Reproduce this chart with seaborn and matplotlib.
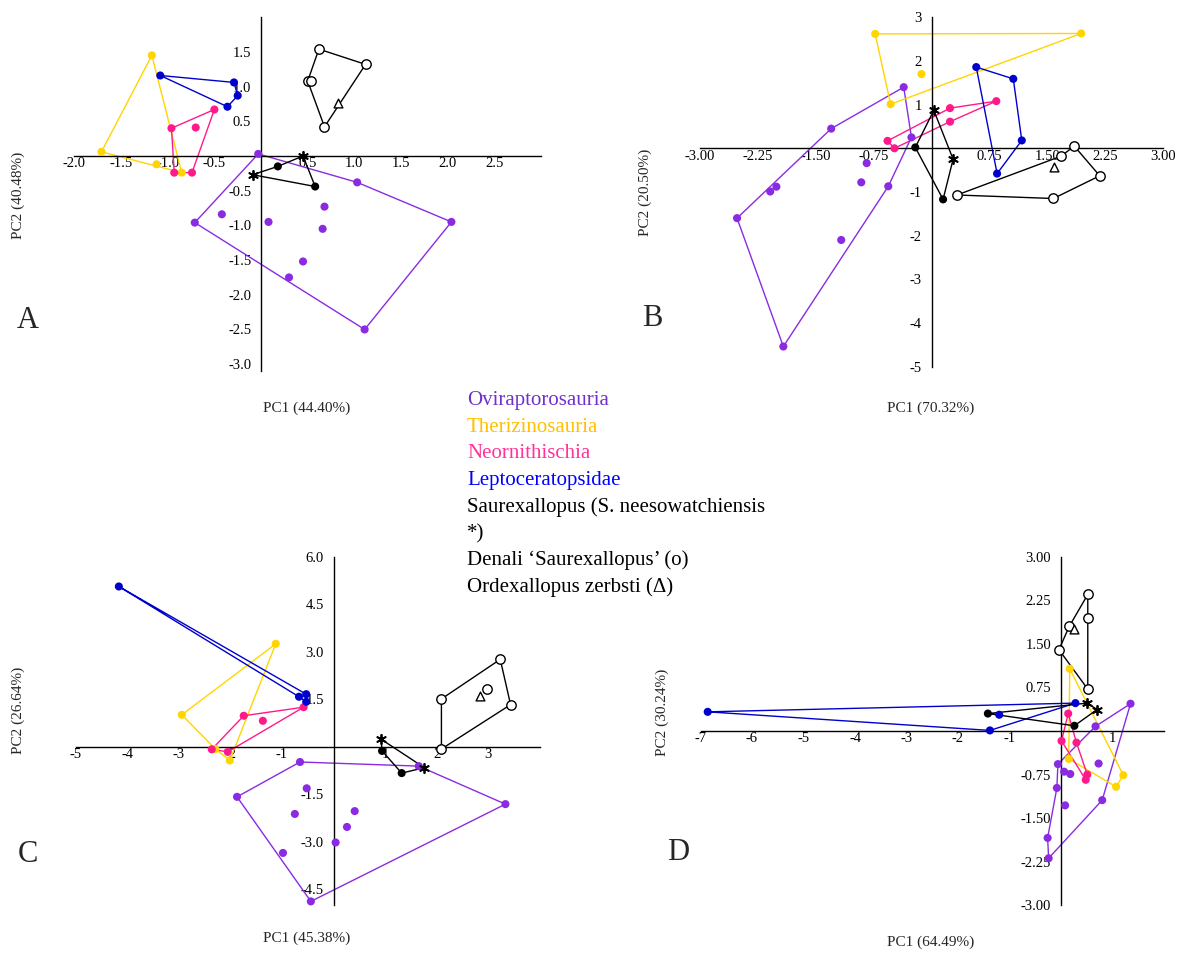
import matplotlib
matplotlib.use("Agg")
import matplotlib.pyplot as plt
import seaborn as sns
import pandas as pd

# Colores de los grupos (puntos y lineas)
col_ovi = "#8A2BE2"
col_the = "#FFD500"
col_neo = "#FF1A8C"
col_lep = "#0000CD"

# ---- Datos panel A ----
a_ovi_hull = [(-0.03, 0.03), (1.03, -0.38), (2.04, -0.95), (1.11, -2.50), (-0.71, -0.96)]
a_ovi_pts = [(-0.42, -0.84), (0.08, -0.95), (0.68, -0.73), (0.66, -1.05), (0.45, -1.52), (0.30, -1.75)]
a_the_hull = [(-1.71, 0.06), (-1.17, 1.45), (-0.85, -0.24)]
a_the_pts = [(-1.12, -0.12)]
a_neo_hull = [(-0.96, 0.40), (-0.50, 0.67), (-0.74, -0.24), (-0.93, -0.24)]
a_neo_pts = [(-0.70, 0.41)]
a_lep_hull = [(-1.08, 1.16), (-0.29, 1.06), (-0.25, 0.87), (-0.36, 0.71)]
a_lep_pts = []
a_sau_hull = [(-0.09, -0.27, "*"), (0.18, -0.15, "o"), (0.45, 0.00, "*"), (0.58, -0.44, "o")]
a_den_hull = [(0.62, 1.54), (1.12, 1.32), (0.68, 0.42), (0.50, 1.08)]
a_den_pts = [(0.54, 1.08)]
a_ord = [(0.82, 0.77)]

# ---- Datos panel B ----
b_ovi_hull = [(-0.36, 1.40), (-0.26, 0.25), (-0.56, -0.87), (-1.92, -4.54), (-2.52, -1.60), (-1.30, 0.45)]
b_ovi_pts = [(-2.09, -0.99), (-2.01, -0.88), (-0.84, -0.34), (-0.91, -0.78), (-1.17, -2.10)]
b_the_hull = [(-0.73, 2.62), (1.94, 2.63), (-0.53, 1.01)]
b_the_pts = [(-0.13, 1.70)]
b_neo_hull = [(-0.57, 0.17), (0.24, 0.92), (0.84, 1.08), (0.24, 0.61), (-0.48, 0.00)]
b_neo_pts = []
b_lep_hull = [(0.58, 1.86), (1.06, 1.59), (1.17, 0.18), (0.85, -0.58)]
b_lep_pts = []
b_sau_hull = [(-0.21, 0.02, "o"), (0.03, 0.87, "*"), (0.28, -0.25, "*"), (0.15, -1.17, "o")]
b_den_hull = [(0.33, -1.07), (1.68, -0.18), (1.85, 0.05), (2.18, -0.63), (1.58, -1.15)]
b_den_pts = []
b_ord = [(1.59, -0.44)]

# ---- Datos panel C ----
c_ovi_hull = [(-0.65, -0.48), (1.65, -0.61), (3.33, -1.81), (-0.44, -4.88), (-1.87, -1.58)]
c_ovi_pts = [(-0.52, -1.31), (-0.75, -2.12), (-0.98, -3.35), (0.04, -3.02), (0.26, -2.53), (0.41, -2.03)]
c_the_hull = [(-2.94, 1.01), (-1.12, 3.25), (-2.01, -0.43), (-2.29, -0.07)]
c_the_pts = []
c_neo_hull = [(-2.36, -0.08), (-1.74, 0.98), (-0.58, 1.25), (-2.05, -0.16)]
c_neo_pts = [(-1.37, 0.82)]
c_lep_hull = [(-4.16, 5.06), (-0.67, 1.58), (-0.53, 1.42), (-0.53, 1.66)]
c_lep_pts = []
c_sau_hull = [(0.92, 0.24, "*"), (1.76, -0.66, "*"), (1.32, -0.83, "o"), (0.94, -0.13, "o")]
c_den_hull = [(2.09, 1.51), (3.23, 2.76), (3.43, 1.33), (2.09, -0.07)]
c_den_pts = [(2.97, 1.82)]
c_ord = [(2.83, 1.59)]

# ---- Datos panel D ----
d_ovi_hull = [(1.35, 0.47), (0.80, -1.19), (-0.24, -2.19), (-0.26, -1.84), (-0.08, -0.98), (-0.06, -0.57), (0.67, 0.08)]
d_ovi_pts = [(0.06, -0.70), (0.18, -0.74), (0.08, -1.28), (0.73, -0.56)]
d_the_hull = [(0.17, 1.07), (1.21, -0.76), (1.07, -0.96), (0.15, -0.48)]
d_the_pts = []
d_neo_hull = [(0.14, 0.30), (0.30, -0.20), (0.51, -0.75), (0.48, -0.84), (0.01, -0.17)]
d_neo_pts = []
d_lep_hull = [(-6.86, 0.33), (0.28, 0.48), (-1.38, 0.01)]
d_lep_pts = [(-1.20, 0.28)]
d_sau_hull = [(-1.42, 0.30, "o"), (0.51, 0.48, "*"), (0.70, 0.37, "*"), (0.26, 0.09, "o")]
d_den_hull = [(-0.04, 1.40), (0.16, 1.80), (0.52, 2.35), (0.52, 0.72)]
d_den_pts = [(0.52, 1.94)]
d_ord = [(0.25, 1.75)]

# Ticks y etiquetas
a_xticks = [-2.0, -1.5, -1.0, -0.5, 0.5, 1.0, 1.5, 2.0, 2.5]
a_yticks = [1.5, 1.0, 0.5, -0.5, -1.0, -1.5, -2.0, -2.5, -3.0]
b_xticks = [-3.0, -2.25, -1.5, -0.75, 0.75, 1.5, 2.25, 3.0]
b_yticks = [3, 2, 1, -1, -2, -3, -4, -5]
c_xticks = [-5, -4, -3, -2, -1, 1, 2, 3]
c_yticks = [6.0, 4.5, 3.0, 1.5, -1.5, -3.0, -4.5]
d_xticks = [-7, -6, -5, -4, -3, -2, -1, 1]
d_yticks = [3.0, 2.25, 1.5, 0.75, -0.75, -1.5, -2.25, -3.0]

pc1_labels = ["PC1 (44.40%)", "PC1 (70.32%)", "PC1 (45.38%)", "PC1 (64.49%)"]
pc2_labels = ["PC2 (40.48%)", "PC2 (20.50%)", "PC2 (26.64%)", "PC2 (30.24%)"]
panel_letters = ["A", "B", "C", "D"]

leyenda = [
    ("Oviraptorosauria", "#7030D0"),
    ("Therizinosauria", "#FFC000"),
    ("Neornithischia", "#FF3399"),
    ("Leptoceratopsidae", "#0000FF"),
    ("Saurexallopus (S. neesowatchiensis", "black"),
    ("*)", "black"),
    ("Denali \u2018Saurexallopus\u2019 (o)", "black"),
    ("Ordexallopus zerbsti (\u0394)", "black"),
]

sns.set_theme(style="white")
plt.rcParams["font.family"] = ["Liberation Serif", "DejaVu Serif"]
plt.rcParams["axes.unicode_minus"] = False

W, H = 1180, 957
fig = plt.figure(figsize=(W / 100, H / 100), dpi=100)


def make_ax(x0, x1, y0, y1, xlim, ylim):
    # posicion en pixeles -> fraccion de figura
    ax = fig.add_axes([x0 / W, 1 - y1 / H, (x1 - x0) / W, (y1 - y0) / H])
    ax.set_xlim(*xlim)
    ax.set_ylim(*ylim)
    ax.patch.set_alpha(0)
    for s in ["top", "right"]:
        ax.spines[s].set_visible(False)
    for s in ["left", "bottom"]:
        ax.spines[s].set_position(("data", 0))
        ax.spines[s].set_color("black")
        ax.spines[s].set_linewidth(1.0)
    ax.tick_params(axis="y", direction="out", length=5, width=1.0, pad=2, labelsize=10.5, colors="black")
    ax.tick_params(axis="x", direction="out", length=6, width=0.8, pad=-5, labelsize=10.5, colors="black")
    return ax


def draw_group(ax, hull, pts, color):
    xs = [p[0] for p in hull] + [hull[0][0]]
    ys = [p[1] for p in hull] + [hull[0][1]]
    ax.plot(xs, ys, color=color, lw=1.0, zorder=2, clip_on=False)
    allp = [(p[0], p[1]) for p in hull] + list(pts)
    df = pd.DataFrame(allp, columns=["x", "y"])
    sns.scatterplot(data=df, x="x", y="y", ax=ax, color=color, s=34, edgecolor="none",
                    zorder=3, legend=False, clip_on=False)


def draw_saur(ax, hull):
    xs = [p[0] for p in hull] + [hull[0][0]]
    ys = [p[1] for p in hull] + [hull[0][1]]
    ax.plot(xs, ys, color="black", lw=1.0, zorder=2, clip_on=False)
    df = pd.DataFrame(hull, columns=["x", "y", "kind"])
    dots = df[df["kind"] == "o"]
    stars = df[df["kind"] == "*"]
    sns.scatterplot(data=dots, x="x", y="y", ax=ax, color="black", s=34, edgecolor="none",
                    zorder=4, legend=False, clip_on=False)
    sns.scatterplot(data=stars, x="x", y="y", ax=ax, marker=(6, 2, 0), color="black", s=45,
                    linewidth=1.3, zorder=4, legend=False, clip_on=False)


def draw_denali(ax, hull, pts, ordx):
    xs = [p[0] for p in hull] + [hull[0][0]]
    ys = [p[1] for p in hull] + [hull[0][1]]
    ax.plot(xs, ys, color="black", lw=1.0, zorder=2, clip_on=False)
    df = pd.DataFrame(list(hull) + list(pts), columns=["x", "y"])
    sns.scatterplot(data=df, x="x", y="y", ax=ax, marker="o", color="white", edgecolor="black",
                    s=46, linewidth=1.0, zorder=4, legend=False, clip_on=False)
    do = pd.DataFrame(ordx, columns=["x", "y"])
    sns.scatterplot(data=do, x="x", y="y", ax=ax, marker="^", color="white", edgecolor="black",
                    s=40, linewidth=1.0, zorder=4, legend=False, clip_on=False)


paneles = [
    dict(box=(74.4, 541, 17.2, 371.1), xlim=(-2.0, 3.0), ylim=(-3.1, 2.0),
         xt=a_xticks, yt=a_yticks, xf="%.1f", yf="%.1f",
         groups=[(a_ovi_hull, a_ovi_pts, col_ovi), (a_the_hull, a_the_pts, col_the),
                 (a_neo_hull, a_neo_pts, col_neo), (a_lep_hull, a_lep_pts, col_lep)],
         sau=a_sau_hull, den=(a_den_hull, a_den_pts, a_ord)),
    dict(box=(700, 1163, 17.3, 366.6), xlim=(-3.0, 3.0), ylim=(-5, 3),
         xt=b_xticks, yt=b_yticks, xf="%.2f", yf="%d",
         groups=[(b_ovi_hull, b_ovi_pts, col_ovi), (b_the_hull, b_the_pts, col_the),
                 (b_neo_hull, b_neo_pts, col_neo), (b_lep_hull, b_lep_pts, col_lep)],
         sau=b_sau_hull, den=(b_den_hull, b_den_pts, b_ord)),
    dict(box=(75.5, 540, 556.7, 905.2), xlim=(-5, 4), ylim=(-5, 6),
         xt=c_xticks, yt=c_yticks, xf="%d", yf="%.1f",
         groups=[(c_ovi_hull, c_ovi_pts, col_ovi), (c_the_hull, c_the_pts, col_the),
                 (c_neo_hull, c_neo_pts, col_neo), (c_lep_hull, c_lep_pts, col_lep)],
         sau=c_sau_hull, den=(c_den_hull, c_den_pts, c_ord)),
    dict(box=(700.5, 1164, 556.7, 905.3), xlim=(-7, 2), ylim=(-3, 3),
         xt=d_xticks, yt=d_yticks, xf="%d", yf="%.2f",
         groups=[(d_ovi_hull, d_ovi_pts, col_ovi), (d_the_hull, d_the_pts, col_the),
                 (d_neo_hull, d_neo_pts, col_neo), (d_lep_hull, d_lep_pts, col_lep)],
         sau=d_sau_hull, den=(d_den_hull, d_den_pts, d_ord)),
]

for p in paneles:
    x0, x1, y0, y1 = p["box"]
    ax = make_ax(x0, x1, y0, y1, p["xlim"], p["ylim"])
    for hull, pts, col in p["groups"]:
        draw_group(ax, hull, pts, col)
    draw_saur(ax, p["sau"])
    draw_denali(ax, *p["den"])
    ax.set_xticks(p["xt"])
    ax.set_xticklabels([p["xf"] % v for v in p["xt"]])
    ax.set_yticks(p["yt"])
    ax.set_yticklabels([p["yf"] % v for v in p["yt"]])
    ax.set_xlabel("")
    ax.set_ylabel("")

# Etiquetas de ejes y letras (posiciones en pixeles)
xlab_pos = [(307, 408), (931, 408), (307, 938), (931, 942)]
ylab_pos = [(18, 195), (645, 192), (18, 710), (662, 712)]
letra_pos = [(28, 320), (652, 318), (28, 855), (678, 853)]
for i in range(4):
    fig.text(xlab_pos[i][0] / W, 1 - xlab_pos[i][1] / H, pc1_labels[i], ha="center", va="center", fontsize=11)
    fig.text(ylab_pos[i][0] / W, 1 - ylab_pos[i][1] / H, pc2_labels[i], ha="center", va="center",
             fontsize=11, rotation=90)
    fig.text(letra_pos[i][0] / W, 1 - letra_pos[i][1] / H, panel_letters[i], ha="center", va="center", fontsize=22)

# Leyenda como texto
for i, (txt, col) in enumerate(leyenda):
    y = 400.7 + 26.6 * i
    fig.text(467 / W, 1 - y / H, txt, color=col, ha="left", va="center", fontsize=15)

fig.savefig("out.png", dpi=100)
print("Grafico guardado")
